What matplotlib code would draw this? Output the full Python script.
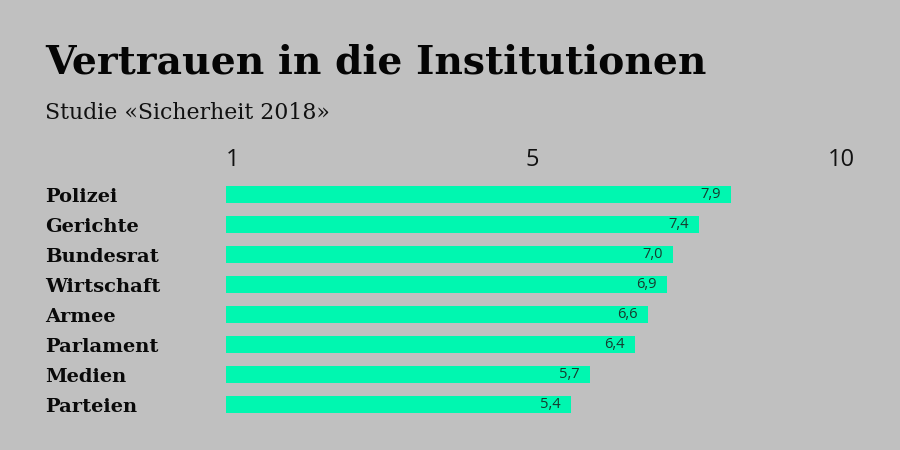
import matplotlib
matplotlib.use("Agg")
import matplotlib.pyplot as plt

categories = ["Polizei", "Gerichte", "Bundesrat", "Wirtschaft", "Armee", "Parlament", "Medien", "Parteien"]
values = [7.9, 7.4, 7.0, 6.9, 6.6, 6.4, 5.7, 5.4]
value_labels = ["7,9", "7,4", "7,0", "6,9", "6,6", "6,4", "5,7", "5,4"]
top_tick_labels = ["1", "5", "10"]
title = "Vertrauen in die Institutionen"
subtitle = "Studie «Sicherheit 2018»"

BG = "#c0c0c0"
BAR = "#00f7b0"
VAL = "#173a2e"
W, H = 900, 450

fig = plt.figure(figsize=(9, 4.5), dpi=100, facecolor=BG)
renderer = fig.canvas.get_renderer()

def fit_text(x_px, base_px, s, target_w, **kw):
    t = fig.text(x_px / W, 1 - base_px / H, s, va="baseline", ha="left", **kw)
    size = kw.get("fontsize", 12)
    for _ in range(3):
        w = t.get_window_extent(renderer).width
        size = size * target_w / w
        t.set_fontsize(size)
    return t

fit_text(45, 73, title, 660, fontsize=30, fontweight="heavy", family="DejaVu Serif", color="#050505")
fit_text(45, 119, subtitle, 285, fontsize=16, family="DejaVu Serif", color="#111111")

# main bar axes: 0 at x=226 px, 10 at 865 px; rows 30 px apart, first centred at y=194.5
ax = fig.add_axes([226 / W, 1 - 419.5 / H, (865 - 226) / W, 240 / H])
ax.set_facecolor(BG)
ypos = list(range(len(categories)))
ax.barh(ypos, values, height=0.56, color=BAR, left=0)
ax.set_xlim(0, 10)
ax.set_ylim(len(categories) - 0.5, -0.5)
for y, v, lab in zip(ypos, values, value_labels):
    ax.annotate(lab, (v, y), xytext=(-7.5, 0), textcoords="offset points",
                ha="right", va="center", fontsize=10.5, color=VAL, family="Open Sans")
ax.set_yticks(ypos)
ax.set_yticklabels(categories, fontsize=14, fontweight="heavy", family="DejaVu Serif", color="#0a0a0a", ha="left")
ax.tick_params(axis="y", length=0, pad=(226 - 45) * 0.72)
ax.set_xticks([])
for s in ax.spines.values():
    s.set_visible(False)

# top scale labels
ax_top = fig.add_axes([226 / W, 1 - 175 / H, (855 - 226) / W, 30 / H])
ax_top.set_xlim(0, 1)
ax_top.axis("off")
tick_frac = [0.0, 0.487, 1.0]
aligns = ["left", "center", "right"]
for f, lab, a in zip(tick_frac, top_tick_labels, aligns):
    ax_top.text(f, 0.5, lab, ha=a, va="center", fontsize=17, family="Open Sans", color="#111111",
                transform=ax_top.transAxes)

fig.savefig("out.png", dpi=100, facecolor=BG)
